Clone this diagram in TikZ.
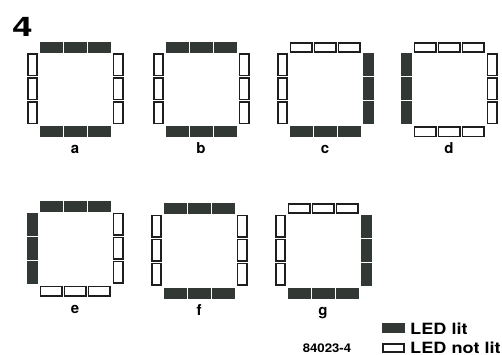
\documentclass[tikz,border=0pt]{standalone}
\usepackage{fontspec}
\setmainfont{TeX Gyre Heros}
\usetikzlibrary{positioning}
\definecolor{ledlit}{HTML}{323834}
\definecolor{ledline}{HTML}{1E1E1E}

\tikzset{
  led/.style={draw=ledline, line width=1.7pt, inner sep=0pt},
  ledh/.style={led, minimum width=21.3pt, minimum height=9.3pt},
  ledv/.style={led, minimum width=9.3pt, minimum height=21.3pt},
  lit/.style={fill=ledlit, draw=ledlit},
  unlit/.style={fill=white},
  panellabel/.style={font=\bfseries\fontsize{15}{15}\selectfont, anchor=base, inner sep=0pt},
  legendtext/.style={font=\bfseries\fontsize{15.5}{16}\selectfont, xscale=1.17, anchor=base west, inner sep=0pt},
  figno/.style={font=\bfseries\fontsize{27}{27}\selectfont, xscale=1.35, anchor=base west, inner sep=0pt}
}

% #1,#2 corner; #3 top, #4 right, #5 bottom, #6 left; #7 label
\newcommand{\ledsquare}[7]{%
  \foreach \k in {0,1,2} {
    \node[ledh, #3] (#7t\k) at (#1+24+24*\k, #2+5.5) {};
    \node[ledh, #5] (#7b\k) at (#1+24+24*\k, #2+90) {};
    \node[ledv, #6] (#7l\k) at (#1+5.5, #2+23+24*\k) {};
    \node[ledv, #4] (#7r\k) at (#1+91, #2+23+24*\k) {};
  }
  \node[panellabel] (lbl#7) at (#1+48, #2+112) {#7};
}

\begin{document}
\begin{tikzpicture}[x=1pt,y=-1pt]
  \useasboundingbox (0,0) rectangle (502,355);
  \node[figno] (fignum) at (12,36.5) {4};

  % top row
  \ledsquare{27}{42}{lit}{unlit}{lit}{unlit}{a}
  \ledsquare{153}{42}{lit}{unlit}{lit}{unlit}{b}
  \ledsquare{277}{42}{unlit}{lit}{lit}{unlit}{c}
  \ledsquare{401}{42}{unlit}{unlit}{unlit}{lit}{d}

  % bottom row
  \ledsquare{27}{201}{lit}{unlit}{unlit}{lit}{e}
  \ledsquare{151}{203}{lit}{unlit}{lit}{unlit}{f}
  \ledsquare{275}{203}{unlit}{lit}{lit}{unlit}{g}

  % legend
  \node[led, lit, minimum width=21.5pt, minimum height=8.6pt] (litkey) at (393.5,328) {};
  \node[led, unlit, minimum width=21.5pt, minimum height=8.6pt] (offkey) at (393.5,348) {};
  \node[legendtext] (littext) at (410,334) {LED lit};
  \node[legendtext] (offtext) at (410,353) {LED not lit};
  \node[font=\bfseries\fontsize{12}{12}\selectfont, xscale=1.1, anchor=base, inner sep=0pt] (figref) at (327,352) {84023-4};
\end{tikzpicture}
\end{document}
